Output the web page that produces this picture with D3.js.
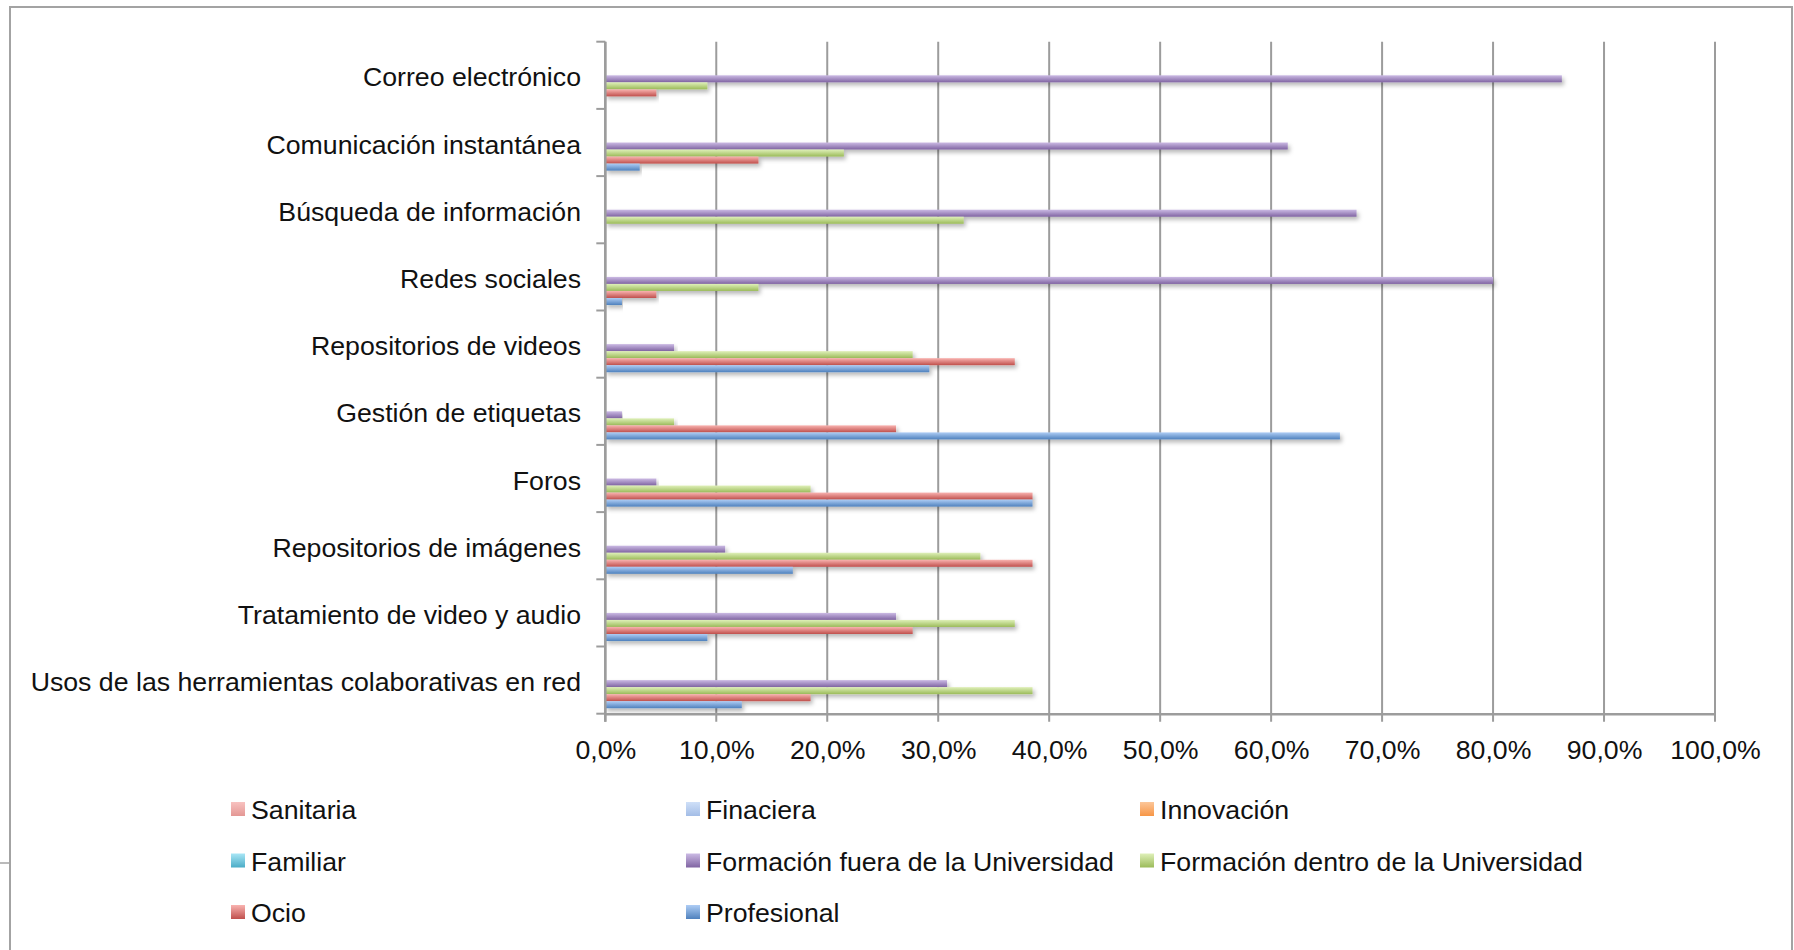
<!DOCTYPE html>
<html>
<head>
<meta charset="utf-8">
<script src="https://d3js.org/d3.v7.min.js"></script>
<style>
  body { margin: 0; background: #fff; }
  svg { display: block; font-family: "Liberation Sans", Arial, Helvetica, sans-serif; }
  .lbl { font-size: 26.7px; fill: #111; }
</style>
</head>
<body>
<svg id="chart" width="1794" height="950"></svg>
<script>
// categories from top to bottom
const categories = ["Correo electrónico", "Comunicación instantánea", "Búsqueda de información",
  "Redes sociales", "Repositorios de videos", "Gestión de etiquetas", "Foros",
  "Repositorios de imágenes", "Tratamiento de video y audio",
  "Usos de las herramientas colaborativas en red"];

// series, top of each group to bottom (also legend order)
const seriesNames = ["Sanitaria", "Finaciera", "Innovación", "Familiar",
  "Formación fuera de la Universidad", "Formación dentro de la Universidad", "Ocio", "Profesional"];

// values in %
const sanitaria       = [0, 0, 0, 0, 0, 0, 0, 0, 0, 0];
const finaciera       = [0, 0, 0, 0, 0, 0, 0, 0, 0, 0];
const innovacion      = [0, 0, 0, 0, 0, 0, 0, 0, 0, 0];
const familiar        = [0, 0, 0, 0, 0, 0, 0, 0, 0, 0];
const formacionFuera  = [86.2, 61.5, 67.7, 80.0, 6.2, 1.5, 4.6, 10.8, 26.2, 30.8];
const formacionDentro = [9.2, 21.5, 32.3, 13.8, 27.7, 6.2, 18.5, 33.8, 36.9, 38.5];
const ocio            = [4.6, 13.8, 0, 4.6, 36.9, 26.2, 38.5, 38.5, 27.7, 18.5];
const profesional     = [0, 3.1, 0, 1.5, 29.2, 66.2, 38.5, 16.9, 9.2, 12.3];

const xTicks = [0, 10, 20, 30, 40, 50, 60, 70, 80, 90, 100];

const seriesValues = [sanitaria, finaciera, innovacion, familiar,
  formacionFuera, formacionDentro, ocio, profesional];

// gradient stops: light top, base bottom
const colors = [
  ["#f8c2c0", "#e39794"],
  ["#cfe0f8", "#a3bde6"],
  ["#fcc699", "#f79646"],
  ["#a8e6f6", "#4bacc6"],
  ["#cbbae4", "#8064a2"],
  ["#dff0b9", "#9bbb59"],
  ["#f9b3b0", "#c0504d"],
  ["#aecdf5", "#4f81bd"]
];

const svg = d3.select("#chart");
const plotLeft = 605.3, plotRight = 1715, plotTop = 41.7, plotBottom = 713.7;

const x = d3.scaleLinear().domain([0, 100]).range([plotLeft, plotRight]);
const y0 = d3.scaleBand().domain(categories).range([plotTop, plotBottom]).padding(0);
const y1 = d3.scaleBand().domain(seriesNames).range([0, y0.bandwidth()])
  .paddingInner(0).paddingOuter(0.78);

const defs = svg.append("defs");
colors.forEach(function(c, i) {
  const g = defs.append("linearGradient").attr("id", "g" + i)
    .attr("x1", 0).attr("y1", 0).attr("x2", 0).attr("y2", 1);
  g.append("stop").attr("offset", "0%").attr("stop-color", c[0]);
  g.append("stop").attr("offset", "100%").attr("stop-color", c[1]);
});
defs.append("filter").attr("id", "shadow")
  .attr("x", "-5%").attr("y", "-50%").attr("width", "110%").attr("height", "250%")
  .append("feDropShadow").attr("dx", 2).attr("dy", 3).attr("stdDeviation", 2)
  .attr("flood-color", "#000").attr("flood-opacity", 0.28);

// frame
svg.append("rect").attr("x", 10).attr("y", 7).attr("width", 1782).attr("height", 960)
  .attr("fill", "none").attr("stroke", "#a3a3a3").attr("stroke-width", 2);
svg.append("line").attr("x1", 0).attr("x2", 10).attr("y1", 863).attr("y2", 863)
  .attr("stroke", "#a3a3a3").attr("stroke-width", 1.5);

// vertical gridlines
svg.append("g").selectAll("line").data(xTicks).enter().append("line")
  .attr("x1", d => x(d)).attr("x2", d => x(d))
  .attr("y1", plotTop).attr("y2", plotBottom + 8)
  .attr("stroke", "#9c9c9c").attr("stroke-width", 2);

// bars
const groups = svg.append("g").selectAll("g").data(categories).enter().append("g")
  .attr("transform", d => "translate(0," + y0(d) + ")");
groups.selectAll("rect")
  .data((c, ci) => seriesNames.map((s, si) => ({ s: s, si: si, v: seriesValues[si][ci] }))
    .filter(d => d.v > 0))
  .enter().append("rect")
  .attr("x", x(0))
  .attr("y", d => y1(d.s))
  .attr("width", d => x(d.v) - x(0))
  .attr("height", y1.bandwidth())
  .attr("fill", d => "url(#g" + d.si + ")")
  .attr("filter", "url(#shadow)");

// x axis
const fmt = d3.formatLocale({ decimal: ",", thousands: ".", grouping: [3], currency: ["", "€"] }).format(".1f");
const xAxis = svg.append("g").attr("transform", "translate(0," + plotBottom + ")")
  .call(d3.axisBottom(x).tickValues(xTicks).tickSize(8).tickSizeOuter(0).tickPadding(18)
    .tickFormat(d => fmt(d) + "%"));
xAxis.select(".domain").attr("stroke", "#9c9c9c").attr("stroke-width", 2.5);
xAxis.selectAll(".tick line").remove();
xAxis.selectAll("text").attr("class", "lbl").attr("fill", null);
xAxis.attr("font-size", null).attr("font-family", null);

// y axis line and boundary ticks
svg.append("line").attr("x1", plotLeft).attr("x2", plotLeft).attr("y1", plotTop).attr("y2", plotBottom + 8)
  .attr("stroke", "#9c9c9c").attr("stroke-width", 2.5);
const bounds = categories.map(c => y0(c)).concat([plotBottom]);
svg.append("g").selectAll("line").data(bounds).enter().append("line")
  .attr("x1", plotLeft - 9).attr("x2", plotLeft).attr("y1", d => d).attr("y2", d => d)
  .attr("stroke", "#9c9c9c").attr("stroke-width", 2);

// category labels
svg.append("g").selectAll("text").data(categories).enter().append("text")
  .attr("class", "lbl")
  .attr("x", 581)
  .attr("y", d => y0(d) + y0.bandwidth() / 2 + 11)
  .attr("text-anchor", "end")
  .text(d => d);

// legend
const legCols = [231, 686, 1140], legRows = [810, 861.5, 913];
const leg = svg.append("g").selectAll("g").data(seriesNames).enter().append("g")
  .attr("transform", (d, i) => "translate(" + legCols[i % 3] + "," + legRows[Math.floor(i / 3)] + ")");
leg.append("rect").attr("x", 0).attr("y", -8).attr("width", 14).attr("height", 14)
  .attr("fill", (d, i) => "url(#g" + i + ")");
leg.append("text").attr("class", "lbl").attr("x", 20).attr("y", 9).text(d => d);
</script>
</body>
</html>
